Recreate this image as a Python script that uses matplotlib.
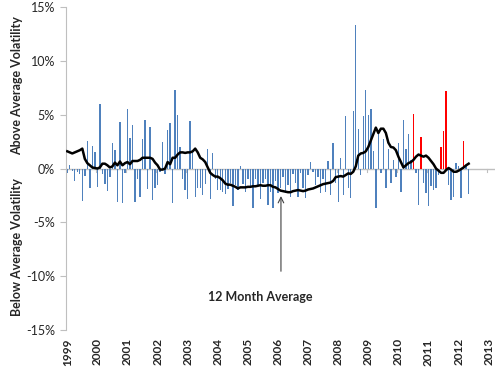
import numpy as np
import matplotlib
matplotlib.use("Agg")
import matplotlib.pyplot as plt

# Monthly deviation from average volatility (%), Jan 1999 - May 2012
bars_1999_2001 = [-0.4, 0.3, -0.2, -1.2, -0.3, -0.5, -3.0, -0.7, 2.6, -1.8, 2.1, 1.5,
                  -1.7, 6.0, -0.5, -1.4, -2.1, -0.8, 2.4, 1.7, -3.1, 4.3, -3.2, -0.4,
                  5.5, 2.8, 4.0, -3.1, -1.0, -2.6, 2.7, 4.5, -1.9]
bars_2001_2004 = [3.9, -2.9, -1.8, -1.5, -0.3, 2.5, -0.5, 3.6, 4.2, -3.2, 7.3, 5.0,
                  2.0, -1.0, -2.0, -2.8, 4.4, 1.7, -2.6, -1.8, -1.8, -2.5, -1.4, 1.8,
                  -2.8, 1.4, -1.0, -2.0, -2.0, -2.2, -2.4, -1.9, -1.3, -3.5]
bars_2004_2007 = [-1.5, -2.0, 0.2, -1.4, -2.2, -1.0, -1.8, -3.7, -1.0, -1.6, -2.8,
                  -1.3, -1.0, -3.4, -2.2, -3.7, -1.2, -2.3, -1.8, -0.8, -2.3, -1.5,
                  -2.6, -0.5, -1.3, -2.6, -0.4, -1.8, -2.7, -0.6, 0.6, -0.3]
bars_2007_2010 = [-1.5, -0.8, -2.3, -1.0, -2.2, 0.7, -2.5, 2.4, -1.3, -3.1, 1.0, -2.5,
                  4.9, -1.8, -2.7, 5.3, 13.3, 3.7, -0.6, 4.9, 7.3, 5.0, 5.5, 1.6,
                  -3.7, 3.2, -0.4, 2.7, -1.8, 1.8, -1.3, 0.8, -0.8, 2.4]
bars_2010_2012 = [-2.2, 4.5, 1.8, 3.2, 0.8, 5.1, -0.4, -3.4, 2.9, -1.3, -2.3, -3.5,
                  -1.6, -2.0, -1.8, -0.6, 2.0, 3.5, 7.2, -1.5, -2.9, -2.6, 0.5, 0.2,
                  -2.7, 2.6, 0.3, -2.4]
bar_values = bars_1999_2001 + bars_2001_2004 + bars_2004_2007 + bars_2007_2010 + bars_2010_2012

# months (index from Jan 1999) whose bars are highlighted red
red_months = [138, 141, 149, 150, 151, 158]

# 12 month average (%)
avg_12m = [1.6, 1.5, 1.4, 1.5, 1.6, 1.7, 1.85, 0.9, 0.5, 0.3, 0.1, 0.05,
           0.0, 0.1, 0.45, 0.45, 0.3, 0.1, 0.2, 0.55, 0.3, 0.65, 0.3, 0.5,
           0.6, 0.4, 0.7, 0.7, 0.7, 0.8, 1.0, 1.0, 1.0, 1.0, 0.9, 0.55,
           0.3, -0.1, -0.1, 0.0, 0.6, 0.4, 1.0, 1.0, 1.3, 1.5, 1.5, 1.45,
           1.5, 1.5, 1.6, 1.85, 1.5, 1.0, 0.85, 0.6, 0.1, -0.4, -0.6, -0.75,
           -0.75, -0.9, -1.1, -1.4, -1.5, -1.5, -1.6, -1.7, -1.85, -1.75, -1.75, -1.75,
           -1.7, -1.7, -1.65, -1.65, -1.6, -1.55, -1.6, -1.6, -1.55, -1.55, -1.7, -1.75,
           -1.9, -2.05, -2.1, -2.15, -2.2, -2.2, -2.1, -2.05, -2.0, -2.05, -2.1, -2.05,
           -1.95, -1.9, -1.85, -1.75, -1.65, -1.55, -1.45, -1.4, -1.35, -1.3, -1.15, -0.8,
           -0.75, -0.7, -0.75, -0.6, -0.45, -0.5, -0.3, 0.2, 1.2, 1.4, 1.45, 1.6,
           2.0, 2.6, 3.2, 3.8, 3.3, 3.7, 3.7, 3.3, 2.4, 2.0, 1.95, 1.7,
           1.1, 0.6, 0.1, 0.3, 0.5, 0.6, 0.8, 1.1, 1.3, 1.2, 1.1, 1.2,
           1.0, 0.7, 0.4, 0.0, -0.2, -0.4, -0.4, -0.15, 0.05, -0.1, -0.3, -0.3,
           -0.2, -0.05, 0.1, 0.3, 0.45]

years = list(range(1999, 2014))
y_ticks = [-15, -10, -5, 0, 5, 10, 15]

n = len(bar_values)
t = 1999 + (np.arange(n) + 0.5) / 12.0
t_line = 1999 + (np.arange(len(avg_12m)) + 0.5) / 12.0
colors = ['#FF0000' if i in red_months else '#4F81BD' for i in range(n)]

plt.rcParams['font.family'] = ['Lato', 'DejaVu Sans']
fig = plt.figure(figsize=(5.0, 3.67), dpi=100)
ax_rect = [0.132, 0.1008, 0.858, 0.880]
ax = fig.add_axes(ax_rect)

x_lo, x_hi = 1999, 1999 + 171 / 12.0
px_width = (x_hi - x_lo) / (ax_rect[2] * 500)  # one pixel in data units

ax.axhline(0, color='#BFBFBF', linewidth=1.0, zorder=1)
for yr in years:
    ax.plot([yr, yr], [0, -0.35], color='#BFBFBF', linewidth=0.8, zorder=1)
ax.bar(t, bar_values, width=px_width * 1.4, color=colors, linewidth=0, zorder=2)
ax.plot(t_line, avg_12m, color='black', linewidth=1.8, zorder=3)

ax.set_xlim(x_lo, x_hi)
ax.set_ylim(-15, 15)
ax.set_yticks(y_ticks)
ax.set_yticklabels([f'{v}%' for v in y_ticks], fontsize=9, color='#262626')
ax.set_xticks([yr + 0.5 / 12 for yr in years])
ax.set_xticklabels([str(yr) for yr in years], rotation=90, fontsize=8.5,
                   fontweight='bold', color='#262626')
ax.tick_params(axis='x', length=0, pad=6)
ax.tick_params(axis='y', length=4, width=0.8, color='#BFBFBF', pad=4)

for s in ['top', 'right', 'bottom']:
    ax.spines[s].set_visible(False)
ax.spines['left'].set_color('#BFBFBF')
ax.spines['left'].set_linewidth(0.8)

fig.text(17 / 500, 1 - 86 / 367, 'Above Average Volatility', rotation=90,
         ha='center', va='center', fontsize=9, fontweight='bold', color='#262626')
fig.text(17 / 500, 1 - 247 / 367, 'Below Average Volatility', rotation=90,
         ha='center', va='center', fontsize=9, fontweight='bold', color='#262626')

ax.annotate('', xy=(2006.14, -2.3), xytext=(2006.14, -9.8),
            arrowprops=dict(arrowstyle='->', color='#404040', lw=0.8))
ax.text(2005.45, -11.9, '12 Month Average', ha='center', va='center',
        fontsize=9, fontweight='bold', color='#262626')

fig.savefig('out.png', dpi=100)
